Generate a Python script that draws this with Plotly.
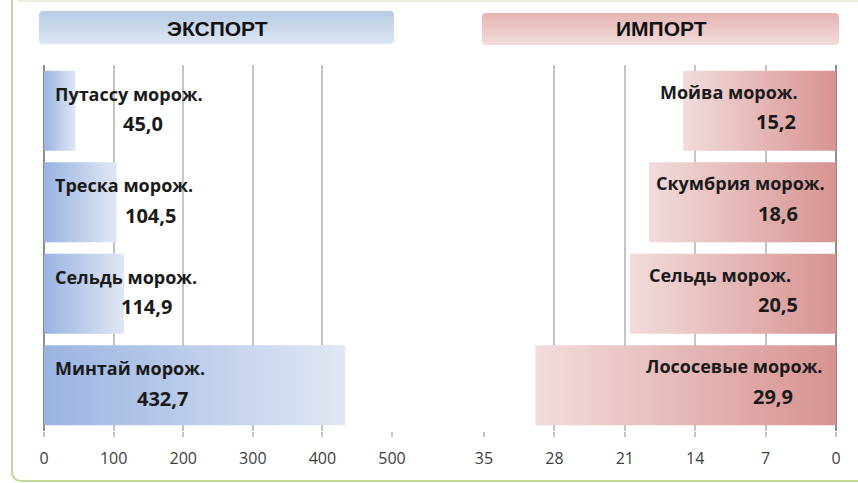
import plotly.graph_objects as go

# ---------------- data ----------------
export_categories = ["Путассу морож.", "Треска морож.", "Сельдь морож.", "Минтай морож."]
export_values = [45.0, 104.5, 114.9, 432.7]
import_categories = ["Мойва морож.", "Скумбрия морож.", "Сельдь морож.", "Лососевые морож."]
import_values = [15.2, 18.6, 20.5, 29.9]
export_ticks = [0, 100, 200, 300, 400, 500]
import_ticks = [0, 7, 14, 21, 28, 35]
panel_titles = ["ЭКСПОРТ", "ИМПОРТ"]

# ---------------- style ----------------
W, H = 858, 483
LABEL_FONT = "Open Sans"
BAR_HALF = 0.4375
BLUE = [[0, "#9ab4e2"], [1, "#e0e7f4"]]      # left (x=0) -> right
PINK = [[0, "#f2dcdc"], [1, "#d79391"]]      # screen left -> screen right (x=0)
# label offsets in pixels (styling)
exp_name_dy, exp_val_dy = 17, -13
exp_val_dx = [99, 106, 102, 118]
imp_name_dx = [-36, -9, -43, -11]
imp_val_dx = [-38, -36, -36, -41]
imp_name_dy, imp_val_dy = 19, -11


def px(x):
    return x / W


def py(y):
    return 1 - y / H


fig = go.Figure()


def add_bars(values, xa, ya, scale):
    for i, v in enumerate(values):
        fig.add_trace(go.Scatter(
            x=[0, v, v, 0, 0],
            y=[i - BAR_HALF, i - BAR_HALF, i + BAR_HALF, i + BAR_HALF, i - BAR_HALF],
            mode="lines", line=dict(width=0), fill="toself",
            fillgradient=dict(type="horizontal", colorscale=scale),
            xaxis=xa, yaxis=ya, hoverinfo="skip", showlegend=False))


add_bars(export_values, "x", "y", BLUE)
add_bars(import_values, "x2", "y2", PINK)

annotations = []
for i, (c, v) in enumerate(zip(export_categories, export_values)):
    annotations.append(dict(xref="x", yref="y", x=0, y=i, text=c, showarrow=False,
                            xanchor="left", yanchor="middle", xshift=9, yshift=exp_name_dy,
                            font=dict(family=LABEL_FONT, size=18, color="#1a1a1a", weight="bold")))
    annotations.append(dict(xref="x", yref="y", x=0, y=i, text=f"{v:.1f}".replace(".", ","),
                            showarrow=False, xanchor="center", yanchor="middle",
                            xshift=exp_val_dx[i], yshift=exp_val_dy,
                            font=dict(family=LABEL_FONT, size=20, color="#1a1a1a", weight="bold")))
for i, (c, v) in enumerate(zip(import_categories, import_values)):
    annotations.append(dict(xref="x2", yref="y2", x=0, y=i, text=c, showarrow=False,
                            xanchor="right", yanchor="middle", xshift=imp_name_dx[i], yshift=imp_name_dy,
                            font=dict(family=LABEL_FONT, size=18, color="#1a1a1a", weight="bold")))
    annotations.append(dict(xref="x2", yref="y2", x=0, y=i, text=f"{v:.1f}".replace(".", ","),
                            showarrow=False, xanchor="right", yanchor="middle",
                            xshift=imp_val_dx[i], yshift=imp_val_dy,
                            font=dict(family=LABEL_FONT, size=20, color="#1a1a1a", weight="bold")))

shapes = []


def gradient_box(x0, y0, x1, y1, top, bottom, r=4):
    def hex2rgb(h):
        return tuple(int(h[k:k + 2], 16) for k in (1, 3, 5))
    a, b = hex2rgb(top), hex2rgb(bottom)
    n = int(y1 - y0)
    for k in range(n):
        t = k / max(n - 1, 1)
        col = "rgb(%d,%d,%d)" % tuple(round(a[j] + (b[j] - a[j]) * t) for j in range(3))
        yy0, yy1 = y0 + k, y0 + k + 1
        dy = 0
        if k < r:
            dy = r - k - 0.5
        elif k >= n - r:
            dy = k - (n - r) + 0.5
        inset = r - (max(r * r - dy * dy, 0)) ** 0.5 if dy else 0
        shapes.append(dict(type="rect", xref="paper", yref="paper",
                           x0=px(x0 + inset), x1=px(x1 - inset), y0=py(yy1), y1=py(yy0),
                           fillcolor=col, line=dict(width=0), layer="below"))


gradient_box(39, 11, 394, 44, "#b7cbe4", "#dde6f2")
gradient_box(482, 13, 839, 45, "#e5b5b4", "#f2dbda")

for t, cx in zip(panel_titles, [217, 661]):
    annotations.append(dict(xref="paper", yref="paper", x=px(cx), y=py(29), text=t,
                            showarrow=False, xanchor="center", yanchor="middle",
                            font=dict(family="Liberation Sans", size=21, color="#111111", weight="bold")))

# outer frame
shapes.append(dict(type="path", xref="paper", yref="paper",
                   path=f"M {px(12)} {py(0)} L {px(12)} {py(471)} Q {px(12)} {py(481)} {px(22)} {py(481)} L {px(858)} {py(481)}",
                   line=dict(color="#c5d99e", width=2)))
shapes.append(dict(type="line", xref="paper", yref="paper", x0=px(18), x1=px(858), y0=py(1), y1=py(1),
                   line=dict(color="#e8efda", width=2)))

axis_common = dict(showgrid=True, gridcolor="#c4c4c4", gridwidth=2, showline=False,
                   ticks="outside", ticklen=5, tickwidth=2, tickcolor="#c4c4c4",
                   zeroline=True, zerolinecolor="#8c8c8c", zerolinewidth=2,
                   tickfont=dict(family="Open Sans", size=16, color="#404040"),
                   ticklabelstandoff=8, fixedrange=True, automargin=False)
yaxis_common = dict(range=[3.5, -0.5], showgrid=False, showticklabels=False, zeroline=False,
                    showline=False, ticks="", fixedrange=True, automargin=False)

fig.update_layout(
    width=W, height=H, margin=dict(l=0, r=0, t=0, b=0, autoexpand=False),
    paper_bgcolor="white", plot_bgcolor="white", showlegend=False,
    xaxis=dict(domain=[px(44), px(392)], range=[0, 500], tickvals=export_ticks,
               ticktext=[str(t) for t in export_ticks], anchor="y", **axis_common),
    yaxis=dict(domain=[py(431), py(65)], anchor="x", **yaxis_common),
    xaxis2=dict(domain=[px(484), px(836)], range=[35, 0], tickvals=import_ticks,
                ticktext=[str(t) for t in import_ticks], anchor="y2", **axis_common),
    yaxis2=dict(domain=[py(431), py(65)], anchor="x2", **yaxis_common),
    annotations=annotations, shapes=shapes,
)

fig.write_html("out.html", config={"displayModeBar": False},
               post_script="document.body.style.margin='0';document.body.style.overflow='hidden';")
